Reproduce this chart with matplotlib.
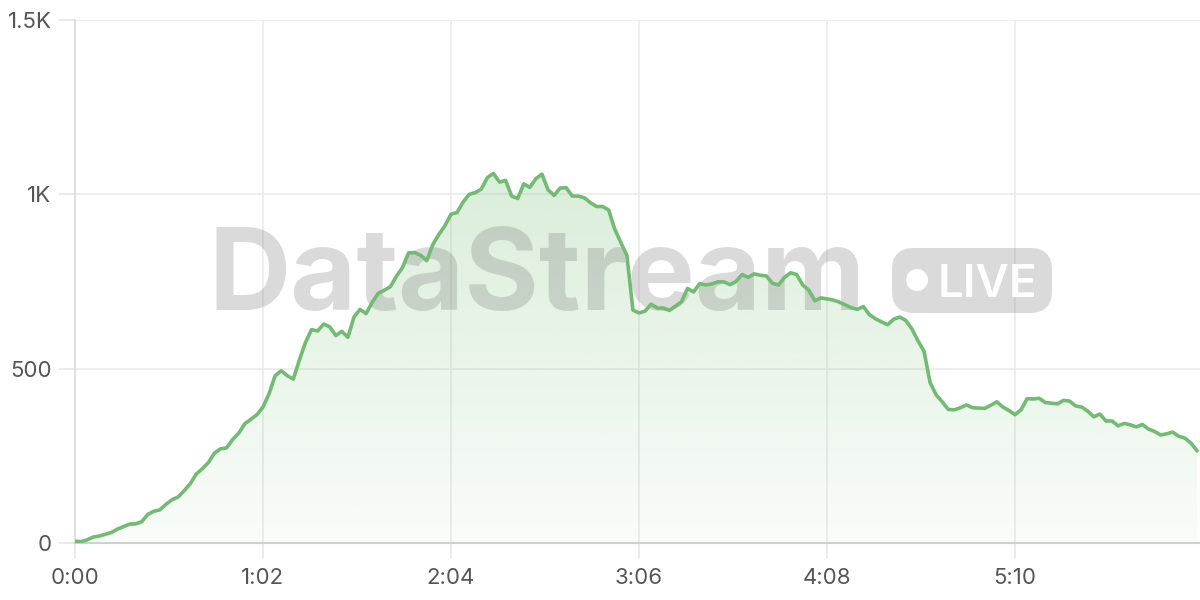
import matplotlib.pyplot as plt
import matplotlib.transforms as mtransforms
import numpy as np
from matplotlib.patches import FancyBboxPatch, Circle
from matplotlib.ticker import FuncFormatter

# viewers every 2 seconds
seconds = list(range(0, 372, 2))
viewers = [
    5, 4, 9, 17, 20, 25, 30, 40, 47, 54,
    55, 61, 82, 91, 95, 111, 124, 132, 150, 170,
    198, 213, 231, 258, 270, 273, 297, 315, 342, 355,
    368, 390, 428, 480, 494, 480, 470, 525, 575, 612,
    608, 628, 620, 595, 607, 590, 648, 670, 658, 690,
    716, 725, 735, 765, 790, 832, 833, 825, 810, 856,
    885, 910, 943, 948, 978, 1000, 1005, 1015, 1048, 1060,
    1035, 1040, 995, 988, 1030, 1020, 1045, 1058, 1013, 997,
    1018, 1019, 995, 995, 990, 976, 965, 965, 955, 900,
    862, 825, 668, 660, 665, 685, 674, 674, 667, 679,
    692, 730, 720, 744, 740, 743, 749, 749, 741, 750,
    770, 762, 772, 768, 766, 745, 740, 762, 775, 770,
    740, 725, 695, 703, 700, 697, 691, 683, 675, 670,
    678, 655, 643, 634, 626, 642, 648, 638, 614, 580,
    550, 460, 425, 405, 383, 382, 388, 396, 388, 387,
    386, 395, 405, 390, 380, 368, 382, 414, 413, 415,
    403, 401, 399, 409, 407, 393, 390, 378, 362, 370,
    350, 350, 336, 343, 339, 333, 340, 327, 320, 310,
    313, 318, 306, 301, 287, 265,
]
x_ticks = [0, 62, 124, 186, 248, 310]
y_ticks = [0, 500, 1000, 1500]
y_labels = ["0", "500", "1K", "1.5K"]

green = "#72bb72"
plt.rcParams['font.family'] = ['Inter', 'DejaVu Sans']

fig = plt.figure(figsize=(12, 6), dpi=100)
ax = fig.add_axes([75 / 1200, 57 / 600, 1125 / 1200, 523 / 600])

t = np.array(seconds)
v = np.array(viewers)

# gradient fill under the line
top = v.max()
img = np.zeros((256, 1, 4))
img[:, 0, :3] = np.array([114, 187, 114]) / 255
img[:, 0, 3] = np.linspace(0.04, 0.26, 256)
im = ax.imshow(img, extent=[0, t[-1], 0, top], origin='lower', aspect='auto',
               zorder=1, interpolation='bilinear')
poly = ax.fill_between(t, v, 0, color='none', lw=0)
im.set_clip_path(poly.get_paths()[0], transform=ax.transData)

ax.plot(t, v, color=green, lw=2.6, zorder=4, solid_joinstyle='round')

ax.set_xlim(0, 1125 / (188 / 62))
ax.set_ylim(0, 1500)
ax.set_autoscale_on(False)
ax.set_xticks(x_ticks)
ax.xaxis.set_major_formatter(FuncFormatter(lambda s, p: f"{int(s // 60)}:{int(s % 60):02d}"))
ax.set_yticks(y_ticks)
ax.set_yticklabels(y_labels)

ax.grid(True, color='#ebebeb', lw=1.2, zorder=0)
ax.set_axisbelow(True)
ax.tick_params(axis='x', length=11, width=1.2, color='#e6e6e6', pad=7,
               labelsize=16, labelcolor='#555555')
ax.tick_params(axis='y', length=11.5, width=1.2, color='#e6e6e6', pad=5.5,
               labelsize=16, labelcolor='#555555')
for s in ['top', 'right']:
    ax.spines[s].set_visible(False)
ax.spines['left'].set_color('#dadada')
ax.spines['bottom'].set_color('#cfcfcf')
ax.spines['left'].set_linewidth(1.2)
ax.spines['bottom'].set_linewidth(1.5)

# watermark, placed in pixel coordinates (y down) between the fill and the line
px = mtransforms.Affine2D().scale(1 / 1200, -1 / 600).translate(0, 1) + fig.transFigure
wm = (0.45, 0.45, 0.45)
ax.text(208, 310, "DataStream", fontsize=82, fontweight='bold', color=wm, alpha=0.26,
        ha='left', va='baseline', transform=px, zorder=3, clip_on=False)
badge = FancyBboxPatch((892, 248), 160, 65, boxstyle="round,pad=0,rounding_size=22",
                       transform=px, facecolor=wm, alpha=0.26, edgecolor='none',
                       zorder=3, clip_on=False)
ax.add_artist(badge)
dot = Circle((917, 280), 11, transform=px, facecolor='white', edgecolor='none',
             zorder=3.5, clip_on=False)
ax.add_artist(dot)
ax.text(938, 297, "LIVE", fontsize=33, fontweight='semibold', color='white',
        ha='left', va='baseline', transform=px, zorder=3.5, clip_on=False)

fig.savefig('out.png', dpi=100)
